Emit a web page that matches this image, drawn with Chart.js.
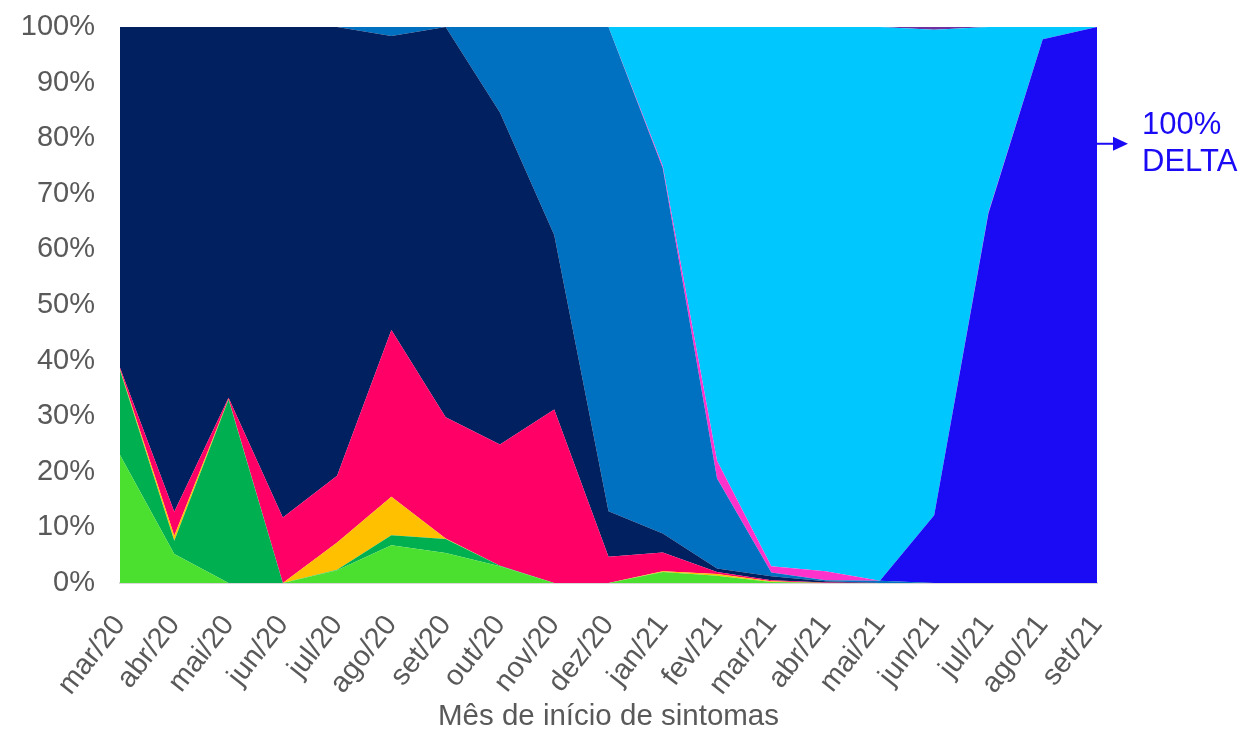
<!DOCTYPE html>
<html>
<head>
<meta charset="utf-8">
<script src="https://cdn.jsdelivr.net/npm/chart.js@4/dist/chart.umd.min.js"></script>
<style>
  html, body { margin: 0; padding: 0; background: #ffffff; }
  #wrap { width: 1242px; height: 729px; position: relative; }
</style>
</head>
<body>
<div id="wrap"><canvas id="c" width="1242" height="729"></canvas></div>
<script>
// ---- Data (percent share per month) ----
const months = ['mar/20','abr/20','mai/20','jun/20','jul/20','ago/20','set/20','out/20','nov/20','dez/20',
                'jan/21','fev/21','mar/21','abr/21','mai/21','jun/21','jul/21','ago/21','set/21'];
const yTicks = [0,10,20,30,40,50,60,70,80,90,100];

const lightGreen = [23.0, 5.2, 0,    0,    2.3, 6.8, 5.4, 3.0, 0,    0,    2.0, 1.3, 0.2, 0,   0,   0,    0,    0,    0];
const darkGreen  = [15.2, 2.4, 33.0, 0,    0.1, 1.8, 2.5, 0.1, 0,    0,    0,   0,   0,   0,   0,   0,    0,    0,    0];
const yellow     = [0.2,  0.9, 0.1,  0,    4.9, 6.9, 0.1, 0,   0,    0,    0.1, 0.3, 0.1, 0,   0,   0,    0,    0,    0];
const pink       = [0.3,  4.3, 0.2,  11.8, 12.0,30.0,21.8,21.8,31.2, 4.7,  3.4, 0.4, 0.2, 0.1, 0,   0,    0,    0,    0];
const navy       = [61.3, 87.2,66.7, 88.2, 80.7,52.9,70.2,59.7,31.4, 8.2,  3.4, 0.6, 0.7, 0.2, 0,   0,    0,    0,    0];
const midBlue    = [0,    0,   0,    0,    0,   1.6, 0,   15.4,37.4, 87.1, 65.7,16.2,0.7, 0.2, 0.4, 0,    0,    0,    0];
const delta      = [0,    0,   0,    0,    0,   0,   0,   0,   0,    0,    0,   0,   0,   0,   0,   12.2, 66.5, 97.8, 100];
const magenta    = [0,    0,   0,    0,    0,   0,   0,   0,   0,    0,    0.4, 3.2, 1.1, 1.6, 0,   0,    0.2,  0,    0];
const cyan       = [0,    0,   0,    0,    0,   0,   0,   0,   0,    0,    25.0,78.0,97.0,97.9,99.6,87.3, 33.3, 2.2,  0];
const purple     = [0,    0,   0,    0,    0,   0,   0,   0,   0,    0,    0,   0,   0,   0,   0,   0.5,  0,    0,    0];

const annotationLines = ['100%', 'DELTA'];
const annotationValue = 79;

// ---- Styles ----
const seriesDefs = [
  { data: lightGreen, color: '#4BE030' },
  { data: darkGreen,  color: '#00B050' },
  { data: yellow,     color: '#FFC000' },
  { data: pink,       color: '#FF0066' },
  { data: navy,       color: '#002060' },
  { data: midBlue,    color: '#0070C0' },
  { data: delta,      color: '#1B0BF5' },
  { data: magenta,    color: '#FF33CC' },
  { data: cyan,       color: '#00C8FF' },
  { data: purple,     color: '#7030A0' }
];

const datasets = seriesDefs.map((s, i) => ({
  data: s.data,
  backgroundColor: s.color,
  borderColor: s.color,
  borderWidth: 0,
  pointRadius: 0,
  pointHoverRadius: 0,
  tension: 0,
  fill: i === 0 ? 'origin' : '-1'
}));

const FONT = 'Liberation Sans, Arial, sans-serif';
const TEXT = '#595959';

const annotationPlugin = {
  id: 'deltaNote',
  afterDraw(chart) {
    const ctx = chart.ctx;
    const area = chart.chartArea;
    const y = chart.scales.y.getPixelForValue(annotationValue);
    const col = '#1B0BF5';
    ctx.save();
    ctx.strokeStyle = col;
    ctx.fillStyle = col;
    ctx.lineWidth = 2;
    ctx.beginPath();
    ctx.moveTo(area.right, y);
    ctx.lineTo(area.right + 18, y);
    ctx.stroke();
    ctx.beginPath();
    ctx.moveTo(area.right + 16, y - 7);
    ctx.lineTo(area.right + 31, y);
    ctx.lineTo(area.right + 16, y + 7);
    ctx.closePath();
    ctx.fill();
    ctx.font = '31px ' + FONT;
    ctx.textAlign = 'left';
    ctx.textBaseline = 'middle';
    ctx.fillText(annotationLines[0], area.right + 45, y - 18);
    ctx.fillText(annotationLines[1], area.right + 45, y + 19);
    ctx.restore();
  }
};

new Chart(document.getElementById('c'), {
  type: 'line',
  data: { labels: months, datasets },
  options: {
    responsive: false,
    animation: false,
    events: [],
    layout: { padding: { top: 27, right: 145, left: 0, bottom: 0 } },
    plugins: {
      legend: { display: false },
      tooltip: { enabled: false },
      filler: { propagate: false }
    },
    elements: { line: { borderWidth: 0 } },
    scales: {
      x: {
        offset: false,
        grid: { display: false },
        border: { display: true, color: '#D9D9D9', width: 2 },
        ticks: {
          autoSkip: false,
          minRotation: 52,
          maxRotation: 52,
          padding: 18,
          color: TEXT,
          font: { family: FONT, size: 29 }
        },
        title: {
          display: true,
          text: 'Mês de início de sintomas',
          color: TEXT,
          font: { family: FONT, size: 29.5, lineHeight: 0.8 },
          padding: { top: 0, bottom: 0 }
        },
        afterFit(scale) { scale.height = 146; }
      },
      y: {
        stacked: true,
        min: 0,
        max: 100,
        grid: {
          display: true,
          drawOnChartArea: false,
          drawTicks: true,
          tickLength: 21,
          color: 'rgba(0,0,0,0)',
          tickColor: 'rgba(0,0,0,0)'
        },
        border: { display: false },
        afterBuildTicks(scale) { scale.ticks = yTicks.map(v => ({ value: v })); },
        ticks: {
          padding: 4,
          color: TEXT,
          font: { family: FONT, size: 29 },
          callback: v => v + '%'
        },
        afterFit(scale) { scale.width = 120; }
      }
    }
  },
  plugins: [annotationPlugin]
});
</script>
</body>
</html>
